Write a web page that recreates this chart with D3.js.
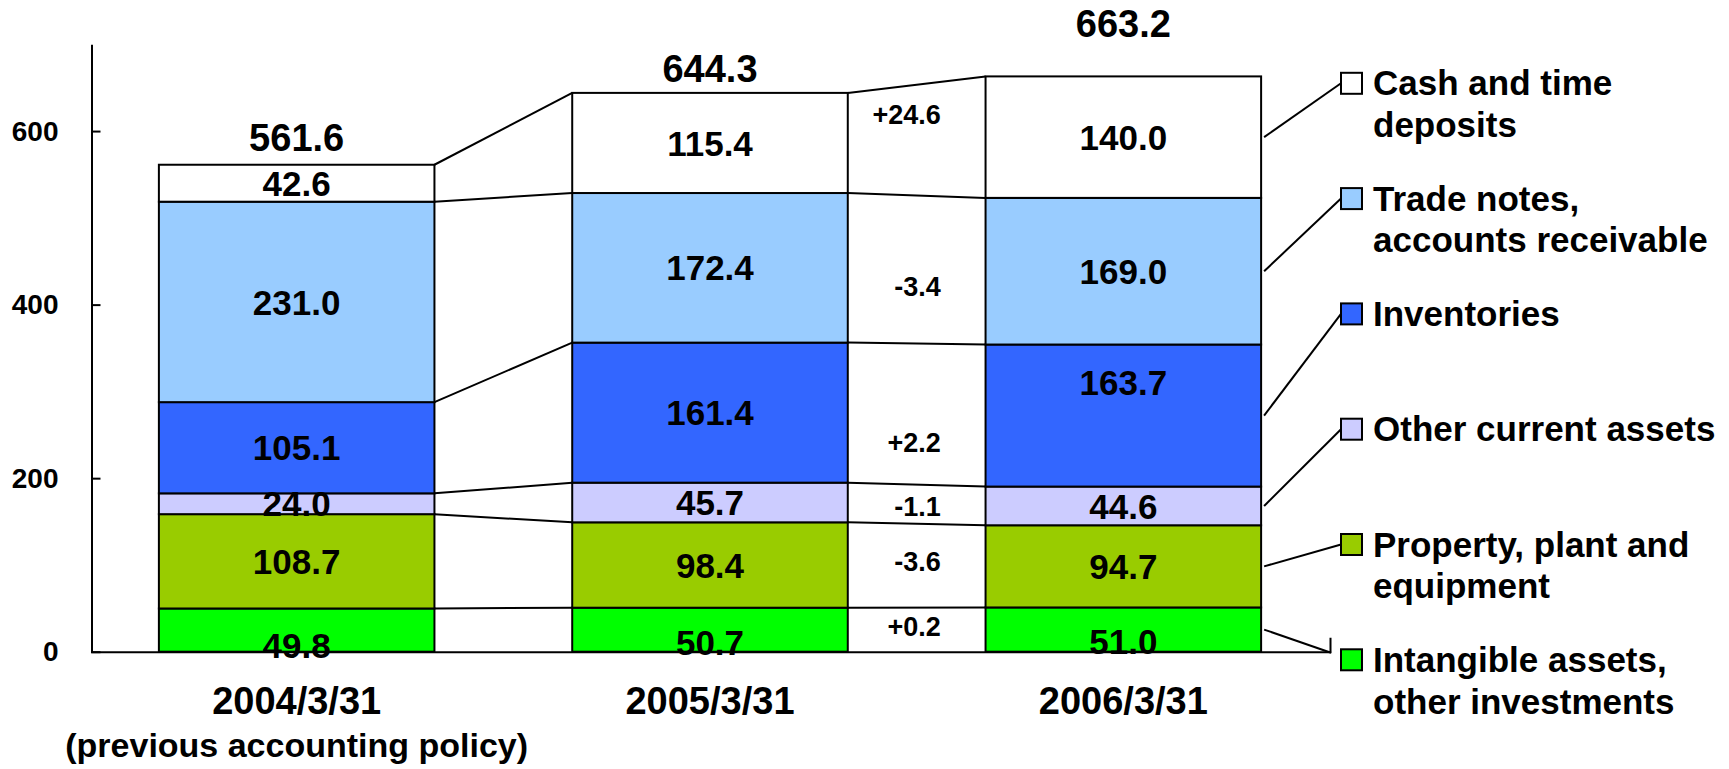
<!DOCTYPE html>
<html>
<head>
<meta charset="utf-8">
<script src="https://cdn.jsdelivr.net/npm/d3@7"></script>
<style>
  html, body { margin: 0; padding: 0; background: #fff; }
  svg { display: block; }
  text { font-family: "Liberation Sans", Arial, Helvetica, sans-serif; font-weight: bold; fill: #000; }
</style>
</head>
<body>
<svg id="chart" width="1729" height="769"></svg>
<script>
// ---------------- data ----------------
const categories = ["2004/3/31", "2005/3/31", "2006/3/31"];
const subCategoryLabel = "(previous accounting policy)";
const seriesKeys = ["intangible", "ppe", "otherCurrent", "inventories", "tradeNotes", "cash"];
const seriesNames = [
  "Intangible assets,\nother investments",
  "Property, plant and\nequipment",
  "Other current assets",
  "Inventories",
  "Trade notes,\naccounts receivable",
  "Cash and time\ndeposits"
];
const seriesColors = ["#00FF00", "#99CC00", "#CCCCFF", "#3366FF", "#99CCFF", "#FFFFFF"];
const intangible   = [49.8, 50.7, 51.0];
const ppe          = [108.7, 98.4, 94.7];
const otherCurrent = [24.0, 45.7, 44.6];
const inventories  = [105.1, 161.4, 163.7];
const tradeNotes   = [231.0, 172.4, 169.0];
const cash         = [42.6, 115.4, 140.0];
const totals       = [561.6, 644.3, 663.2];
const changeLabels = ["+0.2", "-3.6", "-1.1", "+2.2", "-3.4", "+24.6"];
const yTicks = [0, 200, 400, 600];

// ---------------- layout tweaks (px) ----------------
const totalLabelLift = [27, 25, 53];
const segLabelNudge = {intangible: [15, 13, 12], inventories: [0, 0, -33]};
const changeLabelNudge = [-3, -4, 2, 28, 17, -26];

const seriesValues = {intangible, ppe, otherCurrent, inventories, tradeNotes, cash};
const table = categories.map((c, i) => {
  const row = {category: c};
  seriesKeys.forEach(k => row[k] = seriesValues[k][i]);
  return row;
});
const stacked = d3.stack().keys(seriesKeys)(table);

const svg = d3.select("#chart");
const x = d3.scaleBand().domain(categories).range([90, 1330]).paddingInner(1/3).paddingOuter(1/6);
const y = d3.scaleLinear().domain([0, 700]).range([651.7, 44.3]);
const bw = x.bandwidth();

// connecting lines between bars
const gLinks = svg.append("g").attr("stroke", "#000").attr("stroke-width", 2);
for (let i = 0; i < categories.length - 1; i++) {
  stacked.forEach(layer => {
    gLinks.append("line")
      .attr("x1", x(categories[i]) + bw).attr("y1", y(layer[i][1]))
      .attr("x2", x(categories[i + 1])).attr("y2", y(layer[i + 1][1]));
  });
}

// bars
const gBars = svg.append("g");
stacked.forEach((layer, si) => {
  gBars.append("g").selectAll("rect").data(layer).join("rect")
    .attr("x", d => x(d.data.category))
    .attr("y", d => y(d[1]))
    .attr("width", bw)
    .attr("height", d => y(d[0]) - y(d[1]))
    .attr("fill", seriesColors[si])
    .attr("stroke", "#000").attr("stroke-width", 2);
});

// axes
const yAxis = svg.append("g").attr("transform", "translate(91.5,0)")
  .call(d3.axisLeft(y).tickValues(yTicks).tickSizeInner(-9).tickSizeOuter(0).tickPadding(33));
yAxis.selectAll("path, line").attr("stroke", "#000").attr("stroke-width", 2);
yAxis.selectAll("text").attr("font-size", 28).attr("font-family", null).style("fill", "#000");

const xAxis = svg.append("g").attr("transform", `translate(0,${y(0)})`)
  .call(d3.axisBottom(x.copy().range([91.5, 1330])).tickSizeInner(0).tickSizeOuter(-14).tickPadding(35));
xAxis.selectAll("text").remove();
xAxis.selectAll("path").attr("stroke", "#000").attr("stroke-width", 2);
// category labels centred under each bar
svg.append("g").selectAll("text").data(categories).join("text")
  .attr("x", d => x(d) + bw / 2).attr("y", 714)
  .attr("text-anchor", "middle").attr("font-size", 38)
  .text(d => d);
svg.append("text")
  .attr("x", x(categories[0]) + bw / 2).attr("y", 757)
  .attr("text-anchor", "middle").attr("font-size", 34)
  .text(subCategoryLabel);

// segment labels
stacked.forEach((layer, si) => {
  const key = seriesKeys[si];
  svg.append("g").selectAll("text").data(layer).join("text")
    .attr("x", d => x(d.data.category) + bw / 2)
    .attr("y", (d, i) => (y(d[0]) + y(d[1])) / 2 + ((segLabelNudge[key] || [])[i] || 0))
    .attr("dy", "0.36em")
    .attr("text-anchor", "middle").attr("font-size", 35)
    .text(d => d3.format(".1f")(d.data[key]));
});

// totals
svg.append("g").selectAll("text").data(totals).join("text")
  .attr("x", (d, i) => x(categories[i]) + bw / 2)
  .attr("y", (d, i) => y(d3.sum(seriesKeys, k => seriesValues[k][i])) - totalLabelLift[i])
  .attr("dy", "0.36em")
  .attr("text-anchor", "middle").attr("font-size", 38)
  .text(d => d3.format(".1f")(d));

// change labels between 2005 and 2006
const gapL = x(categories[1]) + bw, gapR = x(categories[2]);
svg.append("g").selectAll("text").data(stacked).join("text")
  .attr("x", gapL + (gapR - gapL) * 0.675)
  .attr("y", (layer, si) => (y(layer[1][0]) + y(layer[1][1]) + y(layer[2][0]) + y(layer[2][1])) / 4 + changeLabelNudge[si])
  .attr("dy", "0.36em")
  .attr("text-anchor", "end").attr("font-size", 27)
  .text((layer, si) => changeLabels[si]);

// legend with leader lines
const legX = 1341, sq = 21, legTop = 83.3, legStep = 115.3, lineH = 41.7;
const order = seriesKeys.map((k, i) => i).reverse(); // cash first
const gLeg = svg.append("g");
order.forEach((si, j) => {
  const cy = legTop + j * legStep;
  const layer = stacked[si];
  const lastX = x(categories[2]) + bw + 3;
  const segMid = (y(layer[2][0]) + y(layer[2][1])) / 2;
  let ex = legX, ey = cy;
  if (cy > y(0)) { ex = 1331; ey = y(0) + 1; }
  gLeg.append("line").attr("x1", lastX).attr("y1", segMid).attr("x2", ex).attr("y2", ey)
    .attr("stroke", "#000").attr("stroke-width", 2);
  gLeg.append("rect").attr("x", legX).attr("y", cy - sq / 2).attr("width", sq).attr("height", sq)
    .attr("fill", seriesColors[si]).attr("stroke", "#000").attr("stroke-width", 2);
  const t = gLeg.append("text").attr("x", 1373).attr("y", cy + 12).attr("font-size", 35);
  seriesNames[si].split("\n").forEach((ln, k) => {
    t.append("tspan").attr("x", 1373).attr("dy", k === 0 ? 0 : lineH).text(ln);
  });
});
</script>
</body>
</html>
